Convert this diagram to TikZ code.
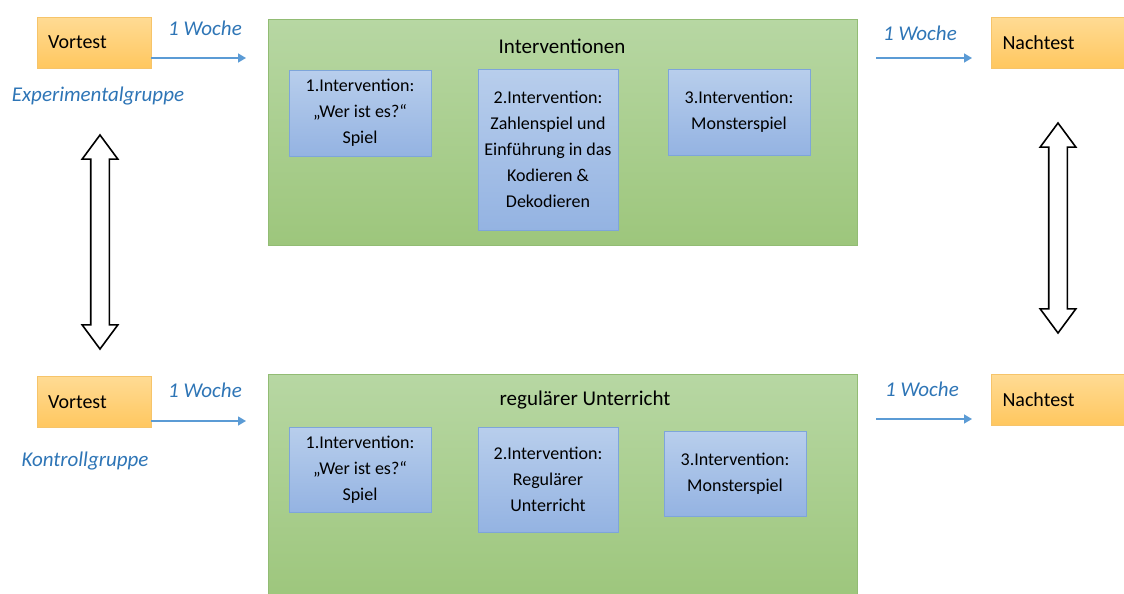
\documentclass[tikz,border=0pt]{standalone}
\usepackage{fontspec}
\setmainfont{Carlito}
\usepackage{xcolor}
\usetikzlibrary{arrows.meta,
positioning,
shapes.arrows,
calc}

\definecolor{testtop}{HTML}{FFDB94}
\definecolor{testbot}{HTML}{FFC75F}
\definecolor{testline}{HTML}{F6C46A}
\definecolor{grtop}{HTML}{B7D7A3}
\definecolor{grbot}{HTML}{9DC67C}
\definecolor{grline}{HTML}{92BC74}
\definecolor{bltop}{HTML}{B8CEEC}
\definecolor{blbot}{HTML}{94B3E2}
\definecolor{blline}{HTML}{7EA5DA}
\definecolor{bluetext}{HTML}{2E75B6}
\definecolor{bluearrow}{HTML}{5B9BD5}

\begin{document}
\begin{tikzpicture}[
    x=0.5pt, y=-0.5pt,
    >=Stealth,
    testbox/.style={
        draw=testline,
        top color=testtop,
        bottom color=testbot,
        align=left,
        inner xsep=5.5pt,
        minimum height=25.5pt,
        font=\fontsize{10}{12}\selectfont
    },
    groupbox/.style={
        draw=grline,
        top color=grtop,
        bottom color=grbot,
        minimum width=294.5pt
    },
    ivbox/.style={
        draw=blline,
        top color=bltop,
        bottom color=blbot,
        align=center,
        minimum width=71pt,
        inner xsep=1pt,
        font=\fontsize{9}{13}\selectfont
    },
    bluelabel/.style={
        text=bluetext,
        font=\fontsize{10.5}{12}\selectfont\itshape
    },
    title/.style={
        font=\fontsize{10.5}{12}\selectfont
    },
    flow/.style={
        draw=bluearrow,
        line width=0.7pt,
        -{Triangle[length=4pt,width=4.5pt]}
    },
    dblarrow/.style={
        draw,
        shape=double arrow,
        rotate=90,
        fill=white,
        line width=0.8pt,
        inner xsep=0pt,
        inner ysep=4.25pt,
        double arrow head extend=4.25pt,
        double arrow tip angle=73
    }
]
\useasboundingbox (0,0) rectangle (1124,594);

\node[testbox, text width=46pt, minimum width=57pt] (vortest1) at (94,42.5) {Vortest};
\node[testbox, text width=57pt, minimum width=68.5pt] (nachtest1) at (1059.5,42.5) {Nachtest};
\node[testbox, text width=46pt, minimum width=57pt] (vortest2) at (94,402) {Vortest};
\node[testbox, text width=57pt, minimum width=68.5pt] (nachtest2) at (1059.5,399.5) {Nachtest};

\node[bluelabel] (exp) at (98,96) {Experimentalgruppe};
\node[bluelabel] (kontroll) at (85,461) {Kontrollgruppe};

\node[groupbox, minimum height=113pt] (interventionen) at (562.5,132) {};
\node[title] at (562,46) (ivtitle) {Interventionen};
\node[groupbox, minimum height=113pt] (unterricht) at (562.5,487) {};
\node[title] at (585,400) (uttitle) {regulärer Unterricht};

\node[ivbox, minimum height=43pt] (iv1) at (360,113) {1.Intervention:\\„Wer ist es?“\\Spiel};
\node[ivbox, minimum height=80.5pt, minimum width=70pt] (iv2) at (548,149.5) {2.Intervention:\\Zahlenspiel und\\Einführung in das\\Kodieren \&\\Dekodieren};
\node[ivbox, minimum height=43pt] (iv3) at (739,112) {3.Intervention:\\Monsterspiel};

\node[ivbox, minimum height=42.5pt] (ut1) at (360,469.5) {1.Intervention:\\„Wer ist es?“\\Spiel};
\node[ivbox, minimum height=52.5pt, minimum width=70pt] (ut2) at (548,479.5) {2.Intervention:\\Regulärer\\Unterricht};
\node[ivbox, minimum height=42.5pt] (ut3) at (735,473.5) {3.Intervention:\\Monsterspiel};

\coordinate (in1) at (246,58);
\coordinate (in2) at (246,421);
\coordinate (out1) at (876,58);
\coordinate (out2) at (876,419);
\coordinate (end1) at (972,58);
\coordinate (end2) at (972,419);

\draw[flow] (vortest1.east |- in1) -- (in1);
\draw[flow] (vortest2.east |- in2) -- (in2);
\draw[flow] (out1) -- (end1);
\draw[flow] (out2) -- (end2);

\node[bluelabel] (woche1) at (205,28) {1 Woche};
\node[bluelabel] (woche2) at (205,390) {1 Woche};
\node[bluelabel] (woche3) at (920,33) {1 Woche};
\node[bluelabel] (woche4) at (922,389) {1 Woche};

\node[dblarrow, minimum height=107pt] (vergleich1) at (100,242) {};
\node[dblarrow, minimum height=105pt] (vergleich2) at (1058,228) {};

\end{tikzpicture}
\end{document}
